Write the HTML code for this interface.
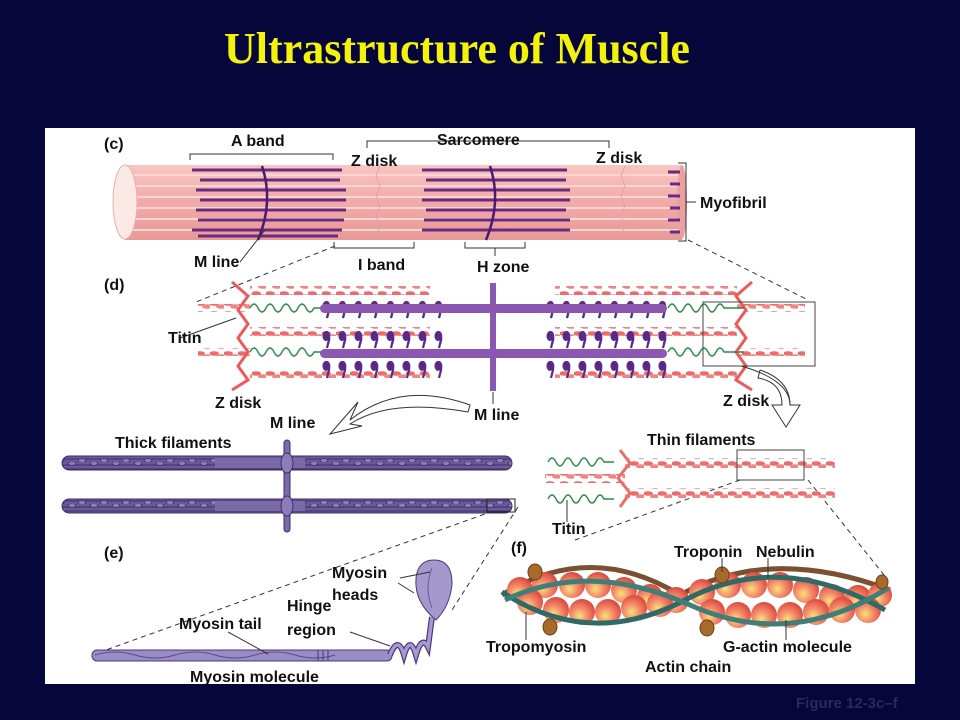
<!DOCTYPE html>
<html><head><meta charset="utf-8"><style>
html,body{margin:0;padding:0;background:#06063a;}
svg{display:block}
text{font-family:"Liberation Sans",Arial,sans-serif;font-weight:bold;font-size:16px;fill:#111}
</style></head><body>
<svg width="960" height="720" viewBox="0 0 960 720" xmlns="http://www.w3.org/2000/svg">
<defs>
<radialGradient id="ball" cx="0.4" cy="0.65" r="0.7"><stop offset="0" stop-color="#f7e27a"/><stop offset="0.45" stop-color="#f48a6a"/><stop offset="1" stop-color="#d8403a"/></radialGradient>
<linearGradient id="cyl" x1="0" y1="0" x2="0" y2="1"><stop offset="0" stop-color="#f7c6c2"/><stop offset="0.5" stop-color="#f2aaa8"/><stop offset="1" stop-color="#e89a98"/></linearGradient>
<pattern id="twist" width="14" height="10" patternUnits="userSpaceOnUse"><ellipse cx="4" cy="3.5" rx="5" ry="2.3" fill="#ee6b6b"/><ellipse cx="11" cy="6.5" rx="5" ry="2.3" fill="#f08585"/></pattern>
<pattern id="heads" width="16" height="30" patternUnits="userSpaceOnUse"><path d="M6 2 q4 0 3 8 l-2 8" stroke="#5a2a8a" stroke-width="2.2" fill="none"/><ellipse cx="6" cy="6" rx="3.5" ry="5" fill="#5a2a8a"/></pattern>
<pattern id="thick" width="22" height="14" patternUnits="userSpaceOnUse"><rect width="22" height="14" fill="#6a5a98"/><path d="M0 3h22M0 7h22M0 11h22" stroke="#3e2e6a" stroke-width="1"/><ellipse cx="6" cy="1.5" rx="4" ry="2" fill="#8c7cbc" stroke="#3e2e6a" stroke-width=".8"/><ellipse cx="16" cy="12.5" rx="4" ry="2" fill="#8c7cbc" stroke="#3e2e6a" stroke-width=".8"/></pattern>
</defs>
<rect width="960" height="720" fill="#06063a"/>
<text x="457" y="63" text-anchor="middle" style="font-family:'Liberation Serif',serif;font-size:44px;fill:#f2f20a">Ultrastructure of Muscle</text>
<rect x="45" y="128" width="870" height="556" fill="#fff"/>

<!-- (c) myofibril -->
<rect x="125" y="165" width="557" height="75" fill="url(#cyl)"/>
<g stroke="#f9d6d2" stroke-width="2">
<line x1="125" y1="175" x2="682" y2="175"/><line x1="125" y1="186" x2="682" y2="186"/><line x1="125" y1="197" x2="682" y2="197"/><line x1="125" y1="208" x2="682" y2="208"/><line x1="125" y1="219" x2="682" y2="219"/><line x1="125" y1="230" x2="682" y2="230"/></g>
<ellipse cx="682" cy="202" rx="5" ry="37" fill="#eaa0a0"/>
<ellipse cx="125" cy="202" rx="12" ry="37" fill="#fbe9e6" stroke="#e7b0ae"/>
<g stroke="#6a2a80" stroke-width="3">
<path d="M192 170h150M200 180h140M196 190h150M200 200h146M196 210h150M198 220h146M192 230h150M198 236h140"/>
<path d="M422 170h145M426 180h140M424 190h146M422 200h148M426 210h140M424 220h146M422 230h148"/>
<path d="M668 172h12M670 184h10M668 196h12M670 208h10M668 220h12M670 232h10"/>
</g>
<path d="M262 166 q12 36 -4 74" stroke="#4a1a70" stroke-width="2.5" fill="none"/>
<path d="M490 166 q12 36 -4 74" stroke="#4a1a70" stroke-width="2.5" fill="none"/>
<g stroke="#e8a0a0" fill="none"><path d="M380 166 l-4 10 4 10 -4 10 4 10 -4 10 4 10 -4 10"/><path d="M625 166 l-4 10 4 10 -4 10 4 10 -4 10 4 10 -4 10"/></g>
<g stroke="#333" fill="none" stroke-width="1">
<path d="M190 160v-6h143v6"/><path d="M367 148v-7h242v7"/><path d="M678 163h8v78h-8M686 202h10"/>
<path d="M334 242v6h80v-6"/><path d="M465 242v6h60v-6M495 248v8"/><path d="M240 262 l25 -32"/>
</g>
<text x="104" y="149">(c)</text><text x="231" y="146">A band</text><text x="437" y="145">Sarcomere</text>
<text x="351" y="166">Z disk</text><text x="596" y="163">Z disk</text><text x="700" y="208">Myofibril</text>
<text x="194" y="267">M line</text><text x="358" y="270">I band</text><text x="477" y="272">H zone</text>
<text x="104" y="290">(d)</text>
<g stroke="#333" stroke-dasharray="5 4" fill="none"><path d="M335 246 L196 302"/><path d="M688 240 L808 300"/><path d="M740 480 L575 540"/><path d="M808 480 L888 580"/><path d="M510 505 L92 655"/><path d="M518 507 L452 610"/></g>

<!-- (d) -->
<g>
<rect x="250" y="286" width="180" height="9" fill="url(#twist)"/><rect x="250" y="327" width="180" height="9" fill="url(#twist)"/><rect x="250" y="369" width="180" height="9" fill="url(#twist)"/>
<rect x="555" y="286" width="182" height="9" fill="url(#twist)"/><rect x="555" y="327" width="182" height="9" fill="url(#twist)"/><rect x="555" y="369" width="182" height="9" fill="url(#twist)"/>
<rect x="198" y="304" width="52" height="8" fill="url(#twist)"/><rect x="198" y="348" width="52" height="8" fill="url(#twist)"/>
<rect x="737" y="304" width="68" height="8" fill="url(#twist)"/><rect x="737" y="348" width="68" height="8" fill="url(#twist)"/>
<path d="M232 282 l16 14 -10 14 10 14 -10 14 10 14 -10 14 10 14 -16 10" stroke="#ee5a5a" stroke-width="3" fill="none"/>
<path d="M752 282 l-16 14 10 14 -10 14 10 14 -10 14 10 14 -10 14 16 10" stroke="#ee5a5a" stroke-width="3" fill="none"/>
<path d="M250 308 q4 -8 8 0 t8 0 t8 0 t8 0 t8 0 t8 0 t8 0 t8 0 h16M250 352 q4 -8 8 0 t8 0 t8 0 t8 0 t8 0 t8 0 t8 0 t8 0 h16" stroke="#2a8a4a" stroke-width="1.4" fill="none"/>
<path d="M668 308 q4 -8 8 0 t8 0 t8 0 t8 0 t8 0 t8 0 t8 0 h20M668 352 q4 -8 8 0 t8 0 t8 0 t8 0 t8 0 t8 0 t8 0 h20" stroke="#2a8a4a" stroke-width="1.4" fill="none"/>
<rect x="318" y="292" width="128" height="30" fill="url(#heads)"/><rect x="318" y="314" width="128" height="30" fill="url(#heads)"/><rect x="318" y="337" width="128" height="30" fill="url(#heads)"/><rect x="318" y="358" width="128" height="26" fill="url(#heads)"/>
<rect x="545" y="292" width="124" height="30" fill="url(#heads)"/><rect x="545" y="314" width="124" height="30" fill="url(#heads)"/><rect x="545" y="337" width="124" height="30" fill="url(#heads)"/><rect x="545" y="358" width="124" height="26" fill="url(#heads)"/>
<rect x="320" y="304" width="347" height="9" rx="4.5" fill="#8a58b0"/><rect x="320" y="349" width="347" height="9" rx="4.5" fill="#8a58b0"/>
<rect x="490" y="283" width="6" height="108" fill="#8a58b0"/>
<rect x="703" y="302" width="112" height="64" fill="none" stroke="#444"/>
</g>
<path d="M180 338 L236 318" stroke="#333" fill="none"/><path d="M493 392v12" stroke="#333"/>
<text x="168" y="343">Titin</text><text x="215" y="408">Z disk</text><text x="723" y="406">Z disk</text><text x="474" y="420">M line</text><text x="270" y="428">M line</text>
<!-- arrows -->
<path d="M470 405 Q400 380 350 420 l8 -18 -28 32 32 -8 -12 -2 Q390 398 468 412 z" fill="#fff" stroke="#333"/>
<path d="M760 370 Q790 380 790 405 l10 0 -14 22 -14 -22 10 0 Q782 382 758 378z" fill="#fff" stroke="#333"/>
<path d="M741 366 Q790 380 790 405" stroke="#333" fill="none"/>

<!-- thick filaments (e top) -->
<text x="115" y="448">Thick filaments</text>
<rect x="62" y="456" width="450" height="14" rx="7" fill="url(#thick)" stroke="#3e2e6a"/>
<rect x="62" y="499" width="450" height="14" rx="7" fill="url(#thick)" stroke="#3e2e6a"/>
<rect x="215" y="458" width="90" height="10" fill="#7a6aa8"/><rect x="215" y="501" width="90" height="10" fill="#7a6aa8"/>
<rect x="284" y="440" width="6" height="92" rx="3" fill="#7a6aa8" stroke="#3e2e6a"/>
<ellipse cx="287" cy="463" rx="6" ry="10" fill="#8c7cbc" stroke="#3e2e6a"/><ellipse cx="287" cy="506" rx="6" ry="10" fill="#8c7cbc" stroke="#3e2e6a"/>
<rect x="487" y="499" width="28" height="13" fill="none" stroke="#222"/>

<!-- thin filaments -->
<text x="647" y="445">Thin filaments</text>
<rect x="625" y="458" width="210" height="10" fill="url(#twist)"/><rect x="625" y="488" width="210" height="10" fill="url(#twist)"/>
<rect x="545" y="474" width="80" height="9" fill="url(#twist)"/>
<path d="M620 450 l10 13 -12 15 12 15 -10 14" stroke="#ee6b6b" stroke-width="3" fill="none"/>
<path d="M548 462 q4 -8 8 0 t8 0 t8 0 t8 0 t8 0 t8 0 t8 0 h10M548 499 q4 -8 8 0 t8 0 t8 0 t8 0 t8 0 t8 0 t8 0 h10" stroke="#2a8a4a" stroke-width="1.4" fill="none"/>
<rect x="737" y="450" width="67" height="30" fill="none" stroke="#444"/>
<path d="M567 500v22" stroke="#333"/><text x="552" y="534">Titin</text>

<!-- (e) myosin -->
<text x="104" y="558">(e)</text>
<rect x="92" y="650" width="300" height="11" rx="5" fill="#9a8cc4" stroke="#4a3a78"/>
<path d="M95 655 q20 -6 40 0 t40 0 t40 0 t40 0 t40 0 t40 0" stroke="#5a4a88" fill="none"/>
<path d="M318 650v11M323 650v11M328 650v11" stroke="#4a3a78"/>
<path d="M390 655 q8 -20 14 0 q6 -20 12 0 q6 -20 12 -8 l4 -30" stroke="#4a3a78" stroke-width="6" fill="none"/>
<path d="M390 655 q8 -20 14 0 q6 -20 12 0 q6 -20 12 -8 l4 -30" stroke="#a89ad0" stroke-width="3.5" fill="none"/>
<path d="M436 620 q-22 -18 -20 -42 q2 -18 18 -18 q18 0 18 24 q-2 22 -16 36z" fill="#a598cc" stroke="#4a3a78"/>
<path d="M432 568 q-8 20 0 40" stroke="#6a5a98" fill="none"/>
<path d="M398 583 l16 10M400 578l30 -6M350 632 l40 14M228 632 l40 22" stroke="#333" fill="none"/>
<text x="332" y="578">Myosin</text><text x="332" y="600">heads</text><text x="287" y="611">Hinge</text><text x="287" y="635">region</text>
<text x="179" y="629">Myosin tail</text><text x="190" y="682">Myosin molecule</text>

<!-- (f) actin -->
<text x="511" y="553">(f)</text>
<g>
<path d="M502 595 Q590 540 680 595 Q770 545 890 590" stroke="#7a5030" stroke-width="5" fill="none"/>
<g>
<circle cx="520" cy="590" r="13" fill="url(#ball)"/><circle cx="545" cy="585" r="13" fill="url(#ball)"/><circle cx="572" cy="585" r="13" fill="url(#ball)"/><circle cx="598" cy="585" r="13" fill="url(#ball)"/><circle cx="624" cy="590" r="13" fill="url(#ball)"/><circle cx="650" cy="597" r="13" fill="url(#ball)"/><circle cx="676" cy="600" r="13" fill="url(#ball)"/><circle cx="702" cy="592" r="13" fill="url(#ball)"/><circle cx="728" cy="585" r="13" fill="url(#ball)"/><circle cx="754" cy="585" r="13" fill="url(#ball)"/><circle cx="780" cy="585" r="13" fill="url(#ball)"/><circle cx="806" cy="590" r="13" fill="url(#ball)"/><circle cx="832" cy="597" r="13" fill="url(#ball)"/><circle cx="858" cy="598" r="13" fill="url(#ball)"/><circle cx="880" cy="595" r="12" fill="url(#ball)"/>
<circle cx="530" cy="602" r="13" fill="url(#ball)"/><circle cx="556" cy="610" r="13" fill="url(#ball)"/><circle cx="582" cy="612" r="13" fill="url(#ball)"/><circle cx="608" cy="612" r="13" fill="url(#ball)"/><circle cx="634" cy="608" r="13" fill="url(#ball)"/><circle cx="660" cy="604" r="13" fill="url(#ball)"/><circle cx="712" cy="612" r="13" fill="url(#ball)"/><circle cx="738" cy="615" r="13" fill="url(#ball)"/><circle cx="764" cy="615" r="13" fill="url(#ball)"/><circle cx="790" cy="615" r="13" fill="url(#ball)"/><circle cx="816" cy="612" r="13" fill="url(#ball)"/><circle cx="842" cy="610" r="13" fill="url(#ball)"/><circle cx="868" cy="610" r="13" fill="url(#ball)"/>
</g>
<path d="M502 592 Q590 650 685 600 Q780 550 885 610" stroke="#2f6a66" stroke-width="5" fill="none"/>
<path d="M505 600 Q590 560 690 605 Q790 650 888 588" stroke="#3e7f78" stroke-width="5" fill="none"/>
<g fill="#a86a2a" stroke="#6a401a"><ellipse cx="535" cy="572" rx="7" ry="8"/><ellipse cx="550" cy="627" rx="7" ry="8"/><ellipse cx="722" cy="575" rx="7" ry="8"/><ellipse cx="707" cy="628" rx="7" ry="8"/><ellipse cx="882" cy="582" rx="6" ry="7"/></g>
</g>
<path d="M526 612v28M722 558v14M768 558v20M786 620v20" stroke="#333"/>
<text x="674" y="557">Troponin</text><text x="756" y="557">Nebulin</text>
<text x="486" y="652">Tropomyosin</text><text x="723" y="652">G-actin molecule</text><text x="645" y="672">Actin chain</text>
<text x="796" y="708" style="fill:#2a2a5a;font-size:15px">Figure 12-3c–f</text>
</svg>
</body></html>
